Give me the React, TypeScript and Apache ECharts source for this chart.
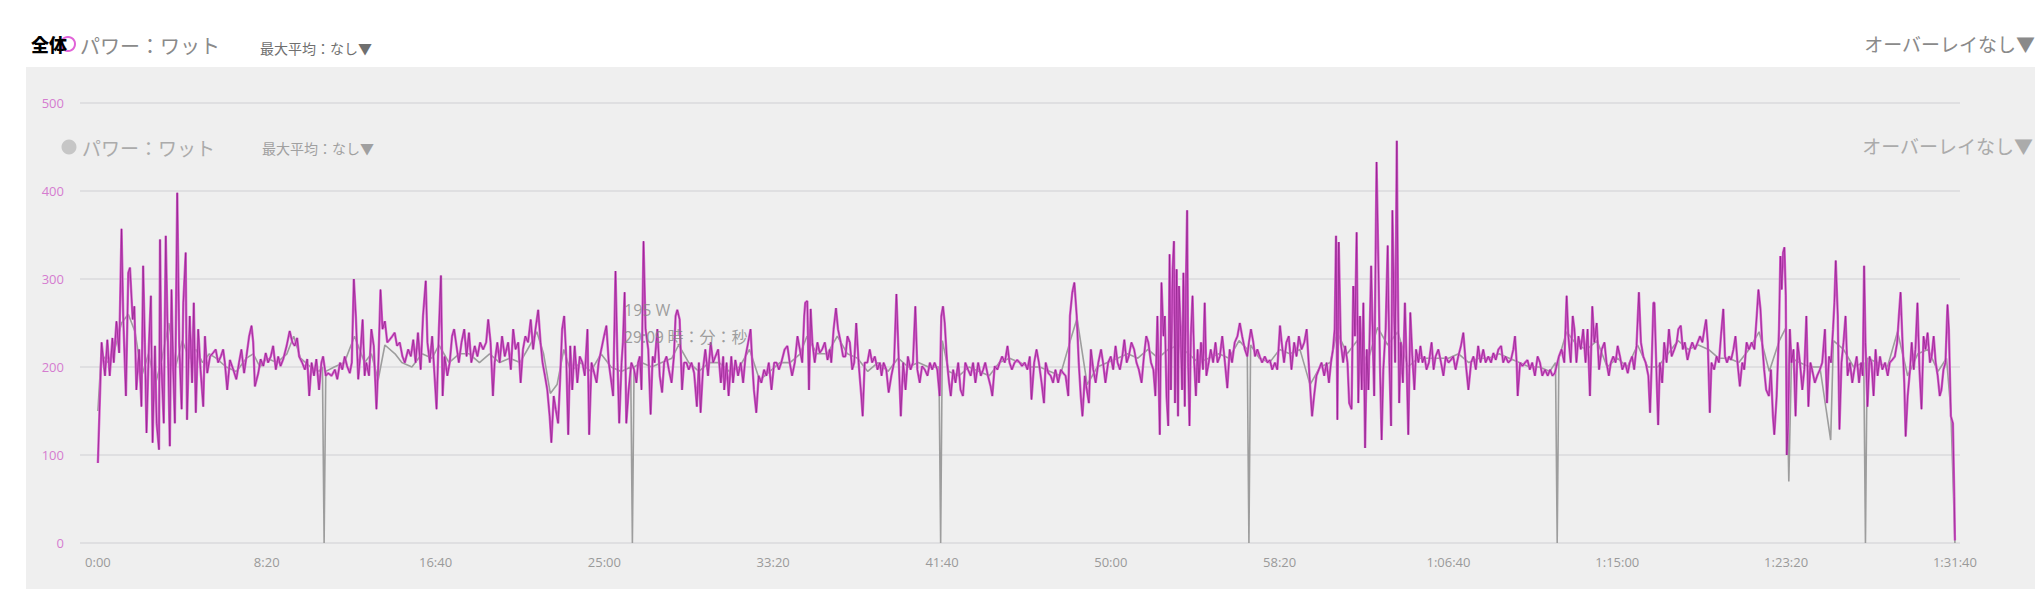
import React, { useEffect, useRef } from "react";
import * as echarts from "echarts";

// x-axis ticks (seconds) and their labels
const TICK_SECONDS = [0, 500, 1000, 1500, 2000, 2500, 3000, 3500, 4000, 4500, 5000, 5500];
const TICK_LABELS = ["0:00", "8:20", "16:40", "25:00", "33:20", "41:40", "50:00", "58:20", "1:06:40", "1:15:00", "1:23:20", "1:31:40"];
const Y_MAX = 500;
const Y_STEP = 100;

// power (W) readings, [seconds, watts]
const power1 = [[0,91],[11,228],[21,190],[28,231],[35,190],[43,233],[47,205],[55,252],[63,216],[70,357],[75,258],[83,167],[90,307],[95,313],[103,254],[108,269],[114,174],[122,220],[129,155],[134,315],[139,228],[144,125],[151,224],[157,281],[162,114],[169,224],[174,136],[181,106],[184,345],[188,205],[195,136],[201,349],[208,212],[213,110],[218,288],[223,197],[228,136],[235,398],[241,224],[248,152],[253,273],[260,330],[264,140],[272,258],[279,182],[284,273],[290,148],[297,243],[304,197],[312,155],[317,235],[324,193],[332,212],[341,216],[349,220],[356,205],[364,212],[371,220],[376,205],[383,174],[391,208],[401,197],[410,186],[418,205],[425,220],[433,193],[440,212],[448,235],[455,247],[460,228],[465,178],[475,193],[482,209],[490,201],[497,216],[504,205],[512,212],[519,224],[527,197],[534,212],[541,201],[549,209],[559,224],[568,241],[576,228],[583,224],[590,233],[596,212],[605,205],[613,197],[620,209],[626,167],[633,205],[640,190],[647,209],[655,174],[662,205],[667,212],[675,190],[682,193],[692,190],[702,197],[709,186],[717,205],[724,197],[731,212],[738,201],[746,193],[752,205],[758,300],[764,258],[771,186],[776,208],[784,254],[790,190],[795,205],[803,190],[810,243],[817,224],[825,152],[831,208],[837,288],[843,243],[850,252],[857,228],[864,231],[872,235],[879,239],[886,224],[894,228],[902,212],[909,205],[919,220]];
const power2 = [[927,212],[934,231],[941,205],[948,239],[956,197],[963,258],[971,298],[976,228],[983,205],[990,235],[996,197],[1003,152],[1010,243],[1016,304],[1021,167],[1027,212],[1035,190],[1042,205],[1049,235],[1055,243],[1062,224],[1069,205],[1077,228],[1085,243],[1092,212],[1099,239],[1106,205],[1116,224],[1124,212],[1132,228],[1141,220],[1150,228],[1156,254],[1163,228],[1170,167],[1175,205],[1183,228],[1190,205],[1197,235],[1205,212],[1215,228],[1223,197],[1230,243],[1237,220],[1245,228],[1252,182],[1259,220],[1266,235],[1274,228],[1282,254],[1289,220],[1296,243],[1304,265],[1311,228],[1317,205],[1324,190],[1331,174],[1338,144],[1343,114],[1350,167],[1356,152],[1363,136],[1369,186],[1375,243],[1381,258],[1387,212],[1393,123],[1399,224],[1405,174],[1412,224],[1420,182],[1427,212],[1435,205],[1442,190],[1450,243],[1455,123],[1462,205],[1470,193],[1477,182],[1483,205],[1491,220],[1499,235],[1506,247],[1513,205],[1521,182],[1526,167],[1533,309],[1539,205],[1544,136],[1551,205],[1555,228],[1560,285],[1565,136],[1572,174],[1580,205],[1588,197],[1595,182],[1600,205],[1605,212],[1610,174],[1616,343],[1622,243],[1630,220],[1637,146],[1643,212],[1649,205],[1657,243],[1664,190],[1671,171],[1677,205],[1684,212],[1691,197],[1699,182],[1706,212],[1711,258],[1716,265],[1723,254],[1730,174],[1736,205],[1743,205],[1750,197],[1758,205],[1766,193],[1774,155],[1780,205],[1785,148],[1792,197],[1799,220],[1807,190],[1815,228],[1822,205],[1829,212],[1837,220],[1845,182],[1852,212]];
const power3 = [[1855,174],[1862,205],[1868,167],[1876,212],[1881,182],[1888,208],[1896,190],[1904,205],[1911,182],[1918,212],[1926,228],[1933,243],[1938,205],[1943,174],[1950,148],[1957,190],[1965,182],[1973,197],[1980,190],[1987,205],[1995,174],[2003,205],[2010,205],[2017,197],[2024,205],[2034,220],[2042,224],[2049,205],[2056,190],[2064,205],[2072,235],[2079,220],[2086,205],[2092,258],[2095,273],[2101,275],[2106,174],[2111,266],[2116,228],[2123,205],[2131,228],[2138,216],[2145,220],[2153,228],[2161,208],[2168,220],[2172,205],[2179,243],[2186,267],[2192,243],[2200,228],[2207,212],[2214,212],[2220,235],[2227,228],[2234,197],[2240,205],[2246,250],[2253,205],[2261,167],[2265,144],[2271,205],[2279,205],[2286,220],[2293,205],[2301,212],[2309,197],[2316,205],[2321,190],[2327,205],[2335,197],[2342,171],[2350,190],[2358,205],[2365,283],[2370,228],[2378,144],[2385,205],[2392,174],[2399,212],[2407,197],[2414,205],[2421,269],[2427,197],[2434,182],[2441,201],[2449,197],[2457,190],[2464,205],[2471,197],[2478,205],[2486,197],[2493,167],[2498,258],[2503,269],[2508,250],[2515,205],[2521,182],[2526,167],[2533,197],[2540,182],[2548,205],[2555,174],[2562,167],[2569,205],[2577,197],[2585,190],[2592,205],[2599,182],[2607,205],[2615,190],[2622,197],[2628,205],[2636,190],[2644,178],[2649,167],[2656,201],[2664,197],[2671,205],[2678,212],[2686,205],[2694,224],[2700,205],[2707,197],[2715,205],[2723,208],[2730,205],[2737,201],[2745,205],[2753,197],[2760,212],[2765,163],[2773,205]];
const power4 = [[2780,220],[2787,205],[2795,182],[2802,159],[2807,205],[2815,193],[2822,190],[2829,182],[2836,197],[2844,182],[2852,197],[2859,193],[2866,190],[2874,167],[2879,258],[2886,285],[2892,296],[2899,258],[2905,205],[2911,167],[2916,144],[2923,190],[2929,174],[2935,159],[2941,220],[2948,197],[2955,182],[2963,205],[2971,220],[2977,205],[2984,182],[2992,205],[3000,212],[3007,197],[3014,224],[3020,205],[3027,197],[3034,212],[3040,231],[3047,205],[3053,212],[3061,228],[3069,220],[3076,205],[3083,197],[3091,182],[3098,212],[3105,235],[3111,228],[3119,205],[3126,197],[3132,167],[3138,258],[3145,123],[3150,296],[3156,235],[3160,258],[3165,167],[3170,133],[3174,328],[3178,174],[3183,311],[3187,343],[3190,159],[3195,311],[3199,144],[3202,292],[3207,235],[3211,174],[3215,307],[3219,155],[3223,307],[3226,378],[3229,205],[3233,133],[3237,235],[3242,281],[3247,205],[3252,167],[3257,220],[3261,182],[3267,228],[3273,197],[3278,273],[3283,190],[3290,205],[3296,220],[3303,205],[3310,228],[3316,205],[3323,212],[3330,235],[3338,205],[3345,176],[3352,220],[3359,205],[3367,228],[3375,235],[3382,250],[3389,235],[3397,220],[3404,212],[3409,228],[3415,243],[3422,228],[3427,212],[3434,220],[3441,212],[3448,205],[3456,212],[3464,205],[3471,208],[3478,197],[3486,205],[3493,197],[3501,247],[3506,228],[3513,205],[3520,228],[3527,235],[3535,197],[3543,228],[3550,212],[3557,235],[3565,220],[3573,228],[3580,243],[3586,205],[3592,167],[3596,144],[3602,167],[3609,190],[3616,197],[3624,205],[3632,190],[3639,205],[3646,182],[3652,205],[3658,220],[3663,243],[3667,349],[3671,140],[3675,342],[3681,228],[3688,205]];
const power5 = [[3694,224],[3701,205],[3706,159],[3713,152],[3718,292],[3723,235],[3728,353],[3733,159],[3738,258],[3743,174],[3748,273],[3753,108],[3758,220],[3763,174],[3771,315],[3776,228],[3780,167],[3787,433],[3792,326],[3797,205],[3802,117],[3807,197],[3814,243],[3820,338],[3825,205],[3830,133],[3834,378],[3838,281],[3842,205],[3847,457],[3850,300],[3854,159],[3859,228],[3865,182],[3871,273],[3876,205],[3881,123],[3887,262],[3893,212],[3899,174],[3904,220],[3911,205],[3917,224],[3923,205],[3929,212],[3935,197],[3942,205],[3950,228],[3956,197],[3962,212],[3970,220],[3978,205],[3985,190],[3992,212],[4000,205],[4007,208],[4014,212],[4021,197],[4029,212],[4037,224],[4044,239],[4051,205],[4059,174],[4067,205],[4074,212],[4081,197],[4088,224],[4095,205],[4103,220],[4110,205],[4118,212],[4126,205],[4133,216],[4140,208],[4148,220],[4156,224],[4162,205],[4169,212],[4177,205],[4185,208],[4192,220],[4197,235],[4202,205],[4205,167],[4212,205],[4219,201],[4227,205],[4234,208],[4241,197],[4248,205],[4256,190],[4264,212],[4271,205],[4278,190],[4286,197],[4294,190],[4301,197],[4308,190],[4315,193],[4320,201],[4327,212],[4335,220],[4343,205],[4350,281],[4355,235],[4362,205],[4368,258],[4373,243],[4379,205],[4385,235],[4392,220],[4399,243],[4406,205],[4412,243],[4419,167],[4426,269],[4432,228],[4439,250],[4446,197],[4454,220],[4462,228],[4468,205],[4475,190],[4481,205],[4488,212],[4495,205],[4501,224],[4508,212],[4515,197],[4523,205],[4531,193],[4537,205],[4544,212],[4550,197],[4557,224],[4564,285],[4570,228],[4577,212],[4584,205],[4592,190],[4597,148],[4602,205],[4607,273]];
const power6 = [[4610,273],[4617,182],[4621,134],[4626,205],[4633,182],[4639,228],[4646,205],[4653,243],[4661,212],[4669,220],[4676,228],[4681,243],[4688,247],[4694,220],[4700,228],[4708,208],[4715,220],[4722,228],[4730,220],[4738,228],[4745,235],[4752,228],[4758,243],[4763,254],[4768,228],[4774,148],[4779,205],[4787,197],[4794,212],[4801,205],[4807,235],[4814,266],[4819,212],[4825,205],[4831,212],[4837,208],[4844,220],[4850,235],[4856,205],[4863,178],[4870,205],[4876,197],[4883,228],[4890,220],[4898,228],[4906,220],[4913,258],[4918,288],[4924,266],[4929,228],[4935,197],[4941,174],[4949,167],[4955,197],[4961,144],[4965,123],[4972,167],[4979,243],[4983,326],[4987,288],[4991,330],[4995,336],[4999,281],[5002,100],[5006,136],[5011,243],[5016,205],[5022,220],[5028,144],[5034,228],[5041,205],[5048,174],[5054,197],[5060,258],[5066,155],[5072,205],[5077,197],[5085,182],[5092,190],[5100,197],[5107,205],[5115,243],[5121,159],[5127,212],[5133,205],[5139,243],[5143,273],[5147,321],[5153,258],[5158,129],[5164,205],[5170,228],[5176,258],[5182,190],[5189,205],[5196,182],[5202,197],[5209,212],[5216,182],[5222,205],[5227,190],[5231,315],[5235,228],[5241,155],[5247,212],[5253,205],[5259,167],[5265,220],[5271,190],[5278,212],[5285,197],[5293,205],[5301,190],[5307,205],[5314,208],[5322,212],[5329,228],[5334,258],[5339,285],[5344,235],[5350,182],[5354,121],[5360,167],[5367,197],[5372,228],[5378,197],[5383,220],[5389,273],[5395,197],[5401,152],[5407,235],[5413,220],[5419,239],[5426,205],[5431,212],[5437,235],[5443,205],[5449,190],[5455,167],[5460,174],[5466,197],[5472,205],[5478,271],[5482,243],[5488,144],[5494,136],[5498,53],[5500,3]];

// overlay (gray) readings, [seconds, watts]
const overlayA = [[0,150],[10,215],[30,205],[50,220],[70,250],[90,260],[110,240],[130,190],[150,215],[170,180],[190,210],[210,250],[230,200],[250,230],[270,210],[290,220],[310,205],[330,215],[350,210],[380,200],[410,195],[440,210],[460,215],[480,200],[500,210],[530,205],[560,215],[580,235],[600,210],[630,200],[655,195],[665,200],[670,0],[675,195],[700,200],[730,205],[760,235],[790,205],[810,215],[830,185],[850,225],[880,215],[900,205],[930,200],[960,215],[990,210],[1010,225],[1040,205],[1070,215],[1100,215],[1130,205],[1160,215],[1190,205],[1220,210],[1250,205],[1280,225],[1300,240],[1320,215],[1340,170],[1360,180],[1380,220],[1400,195],[1430,205],[1460,195],[1490,215],[1520,200],[1550,195],[1578,200],[1583,0],[1588,200],[1610,205],[1640,200],[1670,205],[1700,210],[1720,225],[1750,205],[1780,195],[1810,205],[1840,205]];
const overlayB = [[1870,195],[1900,200],[1930,220],[1960,185],[1990,195],[2020,205],[2050,205],[2080,215],[2100,235],[2130,215],[2160,215],[2190,235],[2220,215],[2250,210],[2280,195],[2310,205],[2340,195],[2370,210],[2400,200],[2430,205],[2460,200],[2491,200],[2496,0],[2501,230],[2520,195],[2550,190],[2580,200],[2610,195],[2640,190],[2670,205],[2700,210],[2730,205],[2760,200],[2790,200],[2820,195],[2850,190],[2880,230],[2900,255],[2930,180],[2960,200],[2990,205],[3020,210],[3050,215],[3080,210],[3110,220],[3140,210],[3170,220],[3200,225],[3230,215],[3260,205],[3290,210],[3320,215],[3350,210],[3380,230],[3404,220],[3409,0],[3414,225],[3440,210],[3470,205],[3500,220],[3530,215],[3560,220],[3590,180],[3620,200],[3650,205]];
const overlayC = [[3670,240],[3700,215],[3730,230],[3760,205],[3790,245],[3820,225],[3850,240],[3880,200],[3910,210],[3940,210],[3970,210],[4000,210],[4030,215],[4060,205],[4090,210],[4120,210],[4150,215],[4180,210],[4210,205],[4240,200],[4270,200],[4300,195],[4317,205],[4322,0],[4327,210],[4350,240],[4380,225],[4410,220],[4440,230],[4470,200],[4500,210],[4530,200],[4560,225],[4590,200],[4620,200],[4650,215],[4680,230],[4710,220],[4740,225],[4770,220],[4800,210],[4830,210],[4860,205],[4890,220],[4920,240],[4950,195],[4980,230],[5000,245],[5008,70],[5016,210],[5040,205],[5070,200],[5100,200],[5132,117],[5140,230],[5170,220],[5200,200],[5230,205],[5235,0],[5240,210],[5270,205],[5300,200],[5330,240],[5360,190],[5390,215],[5420,220],[5450,195],[5475,210],[5488,150],[5500,0]];

const POWER = [...power1, ...power2, ...power3, ...power4, ...power5, ...power6];
const OVERLAY = [...overlayA, ...overlayB, ...overlayC];

const JP = '"Noto Sans CJK JP", "Noto Sans", sans-serif';

export default function App() {
  const ref = useRef<HTMLDivElement>(null);
  useEffect(() => {
    if (!ref.current) return;
    const chart = echarts.init(ref.current, null, { renderer: "svg" });
    const label = (v: number) => {
      const i = TICK_SECONDS.indexOf(v);
      return i >= 0 ? TICK_LABELS[i] : "";
    };
    chart.setOption({
      animation: false,
      backgroundColor: "#ffffff",
      grid: { left: 80, top: 103, width: 1880, height: 440 },
      xAxis: {
        type: "value",
        min: -53,
        max: 5515,
        axisLine: { show: false },
        axisTick: { show: false },
        splitLine: { show: false },
        axisLabel: {
          customValues: TICK_SECONDS,
          formatter: label,
          color: "#9a9a9a",
          fontSize: 13,
          margin: 12,
          fontFamily: '"Open Sans", sans-serif',
        },
      },
      yAxis: {
        type: "value",
        min: 0,
        max: Y_MAX,
        interval: Y_STEP,
        axisLine: { show: false },
        axisTick: { show: false },
        splitLine: { lineStyle: { color: "#dadadd", width: 1.5 } },
        axisLabel: {
          color: "#d57ccf",
          fontSize: 13,
          margin: 16,
          fontFamily: '"Open Sans", sans-serif',
        },
      },
      graphic: [
        { type: "rect", z: -100, silent: true, shape: { x: 26, y: 67, width: 2009, height: 522 }, style: { fill: "#efefef" } },
        { type: "circle", z: 10, shape: { cx: 68, cy: 44, r: 7 }, style: { fill: "#ffffff", stroke: "#e163d8", lineWidth: 2 } },
        { type: "text", z: 11, x: 31, y: 44, style: { text: "全体", fill: "#000000", fontSize: 18, fontWeight: 900, fontFamily: JP, verticalAlign: "middle", align: "left" } },
        { type: "text", z: 10, x: 80, y: 45, style: { text: "パワー：ワット", fill: "#8a8a8a", fontSize: 20, fontFamily: JP, verticalAlign: "middle" } },
        { type: "text", z: 10, x: 260, y: 48, style: { text: "最大平均：なし▼", fill: "#6f6f6f", fontSize: 14, fontFamily: JP, verticalAlign: "middle" } },
        { type: "text", z: 10, x: 2035, y: 43, style: { text: "オーバーレイなし▼", fill: "#8a8a8a", fontSize: 19, fontFamily: JP, verticalAlign: "middle", align: "right" } },
        { type: "circle", z: 10, shape: { cx: 69, cy: 147, r: 7.5 }, style: { fill: "#c6c6c6" } },
        { type: "text", z: 10, x: 82, y: 147, style: { text: "パワー：ワット", fill: "#ababab", fontSize: 19, fontFamily: JP, verticalAlign: "middle" } },
        { type: "text", z: 10, x: 262, y: 148, style: { text: "最大平均：なし▼", fill: "#a0a0a0", fontSize: 14, fontFamily: JP, verticalAlign: "middle" } },
        { type: "text", z: 10, x: 2033, y: 145, style: { text: "オーバーレイなし▼", fill: "#ababab", fontSize: 19, fontFamily: JP, verticalAlign: "middle", align: "right" } },
        { type: "text", z: 10, x: 624, y: 310, style: { text: "195 W", fill: "rgba(130,130,130,0.75)", fontSize: 16, fontFamily: '"Open Sans", sans-serif', verticalAlign: "middle" } },
        { type: "text", z: 10, x: 624, y: 336, style: { text: "29:09 時：分：秒", fill: "rgba(130,130,130,0.75)", fontSize: 16, fontFamily: JP, verticalAlign: "middle" } },
      ],
      series: [
        {
          type: "line",
          name: "overlay",
          data: OVERLAY,
          showSymbol: false,
          symbol: "none",
          z: 2,
          lineStyle: { color: "#9d9d9d", width: 1.6 },
        },
        {
          type: "line",
          name: "power",
          data: POWER,
          showSymbol: false,
          symbol: "none",
          z: 3,
          lineStyle: { color: "#d55ccc", width: 2.4 },
        },
        {
          type: "line",
          name: "power-core",
          data: POWER,
          showSymbol: false,
          symbol: "none",
          z: 4,
          lineStyle: { color: "#8c1f87", width: 1, opacity: 0.7 },
        },
      ],
    });
    return () => chart.dispose();
  }, []);
  return (
    <div
      ref={ref}
      style={{ position: "fixed", left: 0, top: 0, width: 2035, height: 589 }}
    />
  );
}
